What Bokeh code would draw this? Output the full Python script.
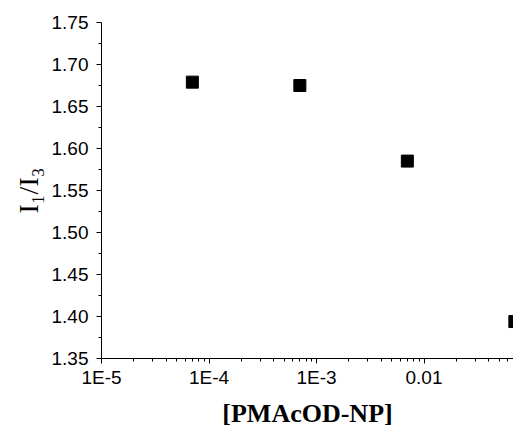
from bokeh.plotting import figure
from bokeh.models import FixedTicker, CustomJSTickFormatter, PrintfTickFormatter, Range1d
from bokeh.embed import file_html
from bokeh.resources import INLINE

# data
concentration = [7e-5, 7e-4, 7e-3, 7e-2]
ratio = [1.679, 1.675, 1.585, 1.394]

x_major = [1e-5, 1e-4, 1e-3, 1e-2]
x_minor = [m * 10.0 ** e for e in range(-5, -1) for m in range(2, 10)]
y_major = [1.35, 1.40, 1.45, 1.50, 1.55, 1.60, 1.65, 1.70, 1.75]
y_minor = [1.375, 1.425, 1.475, 1.525, 1.575, 1.625, 1.675, 1.725]

p = figure(width=513, height=430, x_axis_type="log",
           x_range=Range1d(1e-5, 0.068), y_range=Range1d(1.35, 1.75),
           output_backend="svg", toolbar_location=None,
           min_border_left=101, min_border_right=0, min_border_top=22, min_border_bottom=70)

p.scatter(concentration, ratio, marker="square", size=12, fill_color="black", line_color="black")

p.xgrid.visible = False
p.ygrid.visible = False
p.outline_line_color = None
p.background_fill_color = "white"
p.border_fill_color = "white"

xa = p.xaxis[0]
xa.ticker = FixedTicker(ticks=x_major, minor_ticks=x_minor)
xa.formatter = CustomJSTickFormatter(code="""
const e = Math.round(Math.log10(tick));
if (e == -2) return "0.01";
return "1E" + e;
""")
ya = p.yaxis[0]
ya.ticker = FixedTicker(ticks=y_major, minor_ticks=y_minor)
ya.formatter = PrintfTickFormatter(format="%.2f")

for ax in (xa, ya):
    ax.axis_line_color = "black"
    ax.major_tick_line_color = "black"
    ax.minor_tick_line_color = "black"
    ax.major_tick_out = 5
    ax.major_tick_in = 0
    ax.minor_tick_out = 3
    ax.minor_tick_in = 0
    ax.major_label_text_font = "Liberation Sans"
    ax.major_label_text_font_size = "19px"
    ax.major_label_text_color = "black"
    ax.major_label_standoff = 5

ya.major_label_standoff = 8
xa.major_label_standoff = 3

xa.axis_label = "[PMAcOD-NP]"
xa.axis_label_text_font = "Liberation Serif"
xa.axis_label_text_font_style = "bold"
xa.axis_label_text_font_size = "26px"
xa.axis_label_text_color = "black"
xa.axis_label_standoff = 8

ya.axis_label = "I\u2081/I\u2083"
ya.axis_label_text_font = "Liberation Serif"
ya.axis_label_text_font_style = "normal"
ya.axis_label_text_font_size = "28px"
ya.axis_label_text_color = "black"
ya.axis_label_standoff = 5

open("out.html", "w").write(file_html(p, INLINE))
